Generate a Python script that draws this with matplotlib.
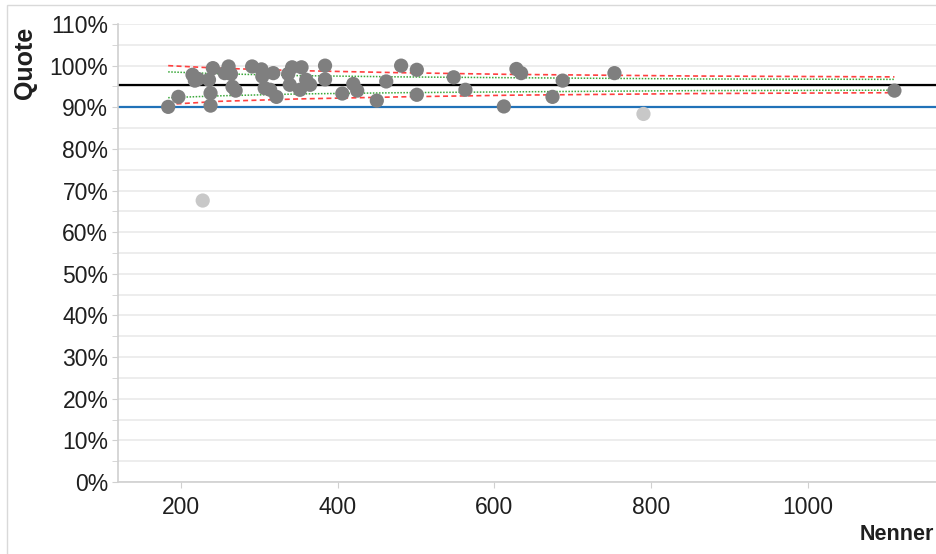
import matplotlib.pyplot as plt
from matplotlib.patches import Rectangle
from matplotlib.ticker import MultipleLocator, PercentFormatter

plt.rcParams['font.family'] = ['Liberation Sans', 'DejaVu Sans']

# Fälle je Einrichtung: Nenner und Quote (%)
nenner = [184, 197, 215, 218, 222, 236, 241, 238, 238, 261, 256, 264, 266, 270,
          291, 303, 304, 318, 307, 314, 322, 339, 342, 354, 337, 360, 365, 352,
          384, 384, 406, 420, 425, 450, 462, 481, 501, 501, 548, 563, 612, 628,
          634, 674, 687, 753, 1110]
quote = [90.1, 92.5, 97.8, 96.4, 96.8, 96.6, 99.4, 93.4, 90.4, 99.8, 98.2, 98.0,
         94.9, 94.0, 99.8, 99.1, 97.4, 98.2, 94.6, 94.2, 92.5, 95.4, 99.6, 99.6,
         98.0, 96.6, 95.4, 94.2, 100.0, 96.7, 93.3, 95.6, 94.0, 91.6, 96.2, 100.0,
         99.0, 93.0, 97.2, 94.2, 90.2, 99.2, 98.2, 92.5, 96.4, 98.2, 94.0]

# ausgeschlossene Einrichtungen (hellgrau)
nenner_aus = [228, 790]
quote_aus = [67.6, 88.4]

mittelwert = 95.4
referenz = 90.0

# Kontrollgrenzen (2 SD grün, 3 SD rot)
grenz_n = [184, 250, 350, 480, 620, 860, 1110]
ob_2sd = [98.5, 98.05, 97.6, 97.3, 97.1, 96.8, 96.7]
un_2sd = [92.3, 92.75, 93.2, 93.5, 93.7, 94.0, 94.1]
ob_3sd = [100.0, 99.37, 98.8, 98.3, 97.9, 97.5, 97.3]
un_3sd = [90.7, 91.43, 92.0, 92.5, 92.9, 93.3, 93.5]

fig = plt.figure(figsize=(9.36, 5.54), dpi=100)
ax = fig.add_axes([118 / 936, 1 - 482 / 554, 1 - 118 / 936, (482 - 24) / 554])

# Rahmen des Diagrammbereichs
fig.patches.append(Rectangle((7 / 936, -0.1), 1.2, 1 - 5 / 554 + 0.1,
                             transform=fig.transFigure, fill=False,
                             edgecolor='#d9d9d9', linewidth=1.0, zorder=0))

ax.set_xlim(120, 1163)
ax.set_ylim(0, 110)

ax.axhline(referenz, color='#2172b8', linewidth=1.6, zorder=2)
ax.axhline(mittelwert, color='black', linewidth=1.6, zorder=2)

ax.plot(grenz_n, ob_3sd, color='#ff4040', linestyle=(0, (3, 2)), linewidth=1.2, zorder=3)
ax.plot(grenz_n, un_3sd, color='#ff4040', linestyle=(0, (3, 2)), linewidth=1.2, zorder=3)
ax.plot(grenz_n, ob_2sd, color='#3aa83a', linestyle=(0, (1, 1)), linewidth=1.1, zorder=3)
ax.plot(grenz_n, un_2sd, color='#3aa83a', linestyle=(0, (1, 1)), linewidth=1.1, zorder=3)

ax.scatter(nenner, quote, s=105, color='#7f7f7f', edgecolors='none', zorder=4)
ax.scatter(nenner_aus, quote_aus, s=105, color='#c8c8c8', edgecolors='none', zorder=4)

ax.yaxis.set_major_locator(MultipleLocator(10))
ax.yaxis.set_minor_locator(MultipleLocator(5))
ax.yaxis.set_major_formatter(PercentFormatter(decimals=0))
ax.set_xticks([200, 400, 600, 800, 1000])

ax.grid(True, which='both', axis='y', color='#ececec', linewidth=1.3, zorder=0)
ax.set_axisbelow(True)

for side in ['top', 'right']:
    ax.spines[side].set_visible(False)
for side in ['left', 'bottom']:
    ax.spines[side].set_color('#d0d0d0')
    ax.spines[side].set_linewidth(1.2)

ax.tick_params(axis='y', which='both', direction='out', length=4, color='#d0d0d0',
               labelsize=16.5, labelcolor='#1f1f1f', pad=3)
ax.tick_params(axis='x', direction='out', length=4, color='#d0d0d0',
               labelsize=16.5, labelcolor='#1f1f1f', pad=6)

fig.text(25 / 936, 1 - 63 / 554, 'Quote', rotation=90, ha='center', va='center',
         fontsize=18, fontweight='bold', color='#1f1f1f')
fig.text(934 / 936, 1 - 535 / 554, 'Nenner', ha='right', va='center',
         fontsize=15.5, fontweight='bold', color='#1f1f1f')

fig.savefig('out.png', dpi=100)
